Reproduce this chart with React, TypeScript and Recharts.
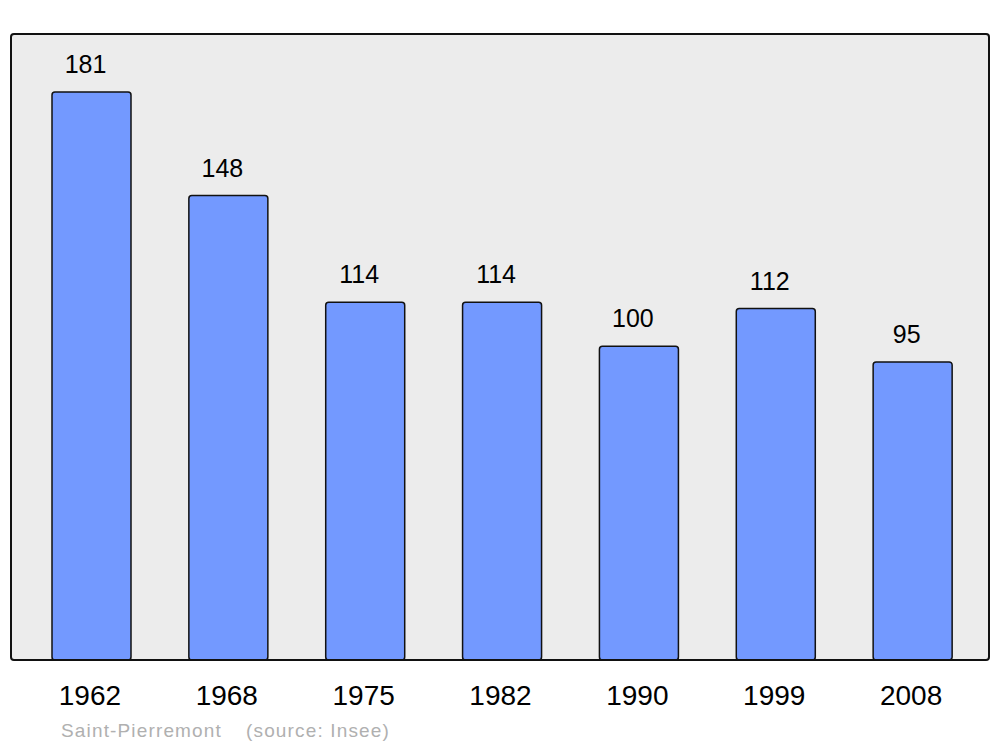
import { BarChart, Bar, XAxis, YAxis, LabelList } from 'recharts';

const years = ['1962', '1968', '1975', '1982', '1990', '1999', '2008'];
const population = [181, 148, 114, 114, 100, 112, 95];
const commune = 'Saint-Pierremont';
const source = '(source: Insee)';

const data = years.map((year, i) => ({ year, value: population[i] }));

const FONT = '"Liberation Sans", Arial, sans-serif';

export default function App() {
  return (
    <div style={{ position: 'absolute', left: 0, top: 0, width: 1000, height: 747, background: '#fff', fontFamily: FONT }}>
      {/* plot background */}
      <div style={{ position: 'absolute', left: 10, top: 33, width: 980, height: 628, background: '#ececec', borderRadius: 4 }} />
      <div style={{ position: 'absolute', left: 0, top: 0 }}>
        <BarChart width={1000} height={747} data={data} margin={{ top: 34, right: 19, bottom: 47, left: 23 }} barCategoryGap={0}>
          <YAxis hide domain={[0, 199.5]} />
          <XAxis
            dataKey="year"
            axisLine={false}
            tickLine={false}
            tickSize={0}
            tickMargin={25}
            height={40}
            interval={0}
            tick={{ fontSize: 28, fill: '#000', fontFamily: FONT, dx: -1.5 }}
          />
          <Bar dataKey="value" fill="#7399ff" stroke="#111" strokeWidth={1.5} barSize={79} radius={3} isAnimationActive={false}>
            <LabelList dataKey="value" position="top" offset={19} dx={-6} fontSize={25} fill="#000" fontFamily={FONT} />
          </Bar>
        </BarChart>
      </div>
      {/* frame on top */}
      <div style={{ position: 'absolute', left: 10, top: 33, width: 980, height: 628, boxSizing: 'border-box', border: '2px solid #111', borderRadius: 4, pointerEvents: 'none' }} />
      <div style={{ position: 'absolute', left: 61, top: 719.5, fontSize: 19, letterSpacing: 1.15, color: '#b0b0b0', whiteSpace: 'nowrap' }}>{commune}</div>
      <div style={{ position: 'absolute', left: 246, top: 719.5, fontSize: 19, letterSpacing: 1.15, color: '#b0b0b0', whiteSpace: 'nowrap' }}>{source}</div>
    </div>
  );
}
